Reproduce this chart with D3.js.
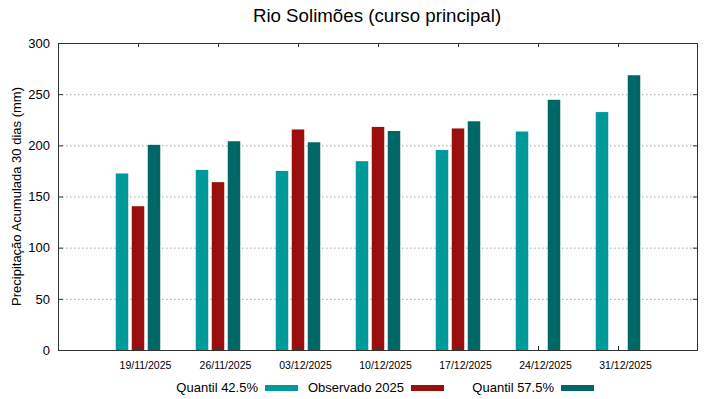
<!DOCTYPE html>
<html><head><meta charset="utf-8">
<script src="https://cdn.jsdelivr.net/npm/d3@7"></script>
<style>body{margin:0;background:#fff;} text{font-family:"Liberation Sans",Arial,sans-serif;}</style>
</head><body>
<svg id="c" width="719" height="399"></svg>
<script>
const categories = ["19/11/2025","26/11/2025","03/12/2025","10/12/2025","17/12/2025","24/12/2025","31/12/2025"];
const quantil425 = [172.5, 176, 175, 184.5, 195.5, 213.5, 232.5];
const observado2025 = [140.5, 164, 215.5, 218, 216.5, null, null];
const quantil575 = [200.5, 204, 203, 214, 223.5, 244.5, 268.5];
const yTicks = [0, 50, 100, 150, 200, 250, 300];
const seriesNames = ["Quantil 42.5%", "Observado 2025", "Quantil 57.5%"];
const colors = ["#009a9a", "#9a0e0e", "#006767"];

const svg = d3.select("#c");
const L = 58, R = 697, T = 43, B = 350;
const x = d3.scaleLinear().domain([0, categories.length + 1]).range([L, R + 1]);
const y = d3.scaleLinear().domain([0, 300]).range([B, T]);

// grid
svg.append("g").selectAll("line").data(yTicks.filter(d => d > 0 && d < 300)).join("line")
  .attr("x1", L).attr("x2", R).attr("y1", d => y(d) + 0.5).attr("y2", d => y(d) + 0.5)
  .attr("stroke", "#a0a0a0").attr("stroke-width", 1).attr("stroke-dasharray", "1.5,2.5");

// bars
const series = [quantil425, observado2025, quantil575];
const bw = 12.5, off = [-16, 0, 16];
series.forEach((s, si) => {
  svg.append("g").selectAll("rect").data(s.map((v, i) => ({v, i})).filter(d => d.v != null)).join("rect")
    .attr("x", d => x(d.i + 1) + off[si] - bw / 2)
    .attr("width", bw)
    .attr("y", d => y(d.v))
    .attr("height", d => y(0) - y(d.v))
    .attr("fill", colors[si]);
});

// border
svg.append("rect").attr("x", L + 0.5).attr("y", T + 0.5).attr("width", R - L).attr("height", B - T)
  .attr("fill", "none").attr("stroke", "#333").attr("stroke-width", 1);

// y axis
const yAxis = d3.axisLeft(y).tickValues(yTicks).tickSize(0).tickPadding(8);
const gy = svg.append("g").attr("transform", `translate(${L},0)`).call(yAxis);
gy.select(".domain").remove();
gy.selectAll("text").attr("font-size", 13).attr("fill", "#000").attr("font-family", "Liberation Sans, Arial, sans-serif");
// y ticks inward both sides
svg.append("g").selectAll("line").data(yTicks).join("line")
  .attr("x1", L).attr("x2", L + 5).attr("y1", d => y(d) + 0.5).attr("y2", d => y(d) + 0.5).attr("stroke", "#333");
svg.append("g").selectAll("line").data(yTicks).join("line")
  .attr("x1", R - 4).attr("x2", R + 1).attr("y1", d => y(d) + 0.5).attr("y2", d => y(d) + 0.5).attr("stroke", "#333");

// x axis (labels offset right as in reference)
const xAxis = d3.axisBottom(x).tickValues(categories.map((c, i) => i + 1)).tickFormat(d => categories[d - 1]).tickSize(0).tickPadding(12);
const gx = svg.append("g").attr("transform", `translate(7,${B})`).call(xAxis);
gx.select(".domain").remove();
gx.selectAll("text").attr("font-size", 10.5).attr("fill", "#000").attr("font-family", "Liberation Sans, Arial, sans-serif");
svg.append("g").selectAll("line").data(categories.map((c, i) => i + 1)).join("line")
  .attr("x1", d => Math.round(x(d)) + 0.5).attr("x2", d => Math.round(x(d)) + 0.5).attr("y1", B - 4).attr("y2", B).attr("stroke", "#333");
svg.append("g").selectAll("line").data(categories.map((c, i) => i + 1)).join("line")
  .attr("x1", d => Math.round(x(d)) + 0.5).attr("x2", d => Math.round(x(d)) + 0.5).attr("y1", T).attr("y2", T + 4).attr("stroke", "#333");

// title
svg.append("text").attr("x", 377).attr("y", 22).attr("text-anchor", "middle").attr("font-size", 18.7).text("Rio Solimões (curso principal)");
// y label
svg.append("text").attr("transform", `translate(21,${(T + B) / 2}) rotate(-90)`).attr("text-anchor", "middle").attr("font-size", 13).text("Precipitação Acumulada 30 dias (mm)");

// legend
const legX = [258, 404, 554];
seriesNames.forEach((n, i) => {
  svg.append("text").attr("x", legX[i]).attr("y", 392).attr("text-anchor", "end").attr("font-size", 13).text(n);
  svg.append("rect").attr("x", legX[i] + 7).attr("y", 385).attr("width", 33).attr("height", 6).attr("fill", colors[i]);
});
</script>
</body></html>
